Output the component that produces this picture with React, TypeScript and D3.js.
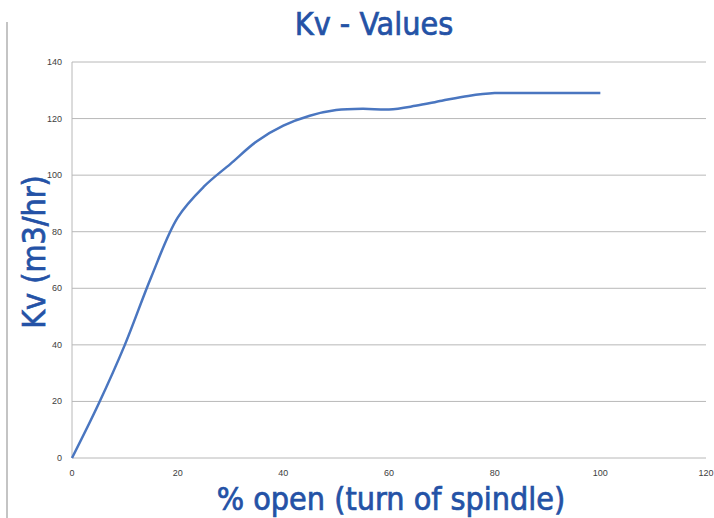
import React from "react";
import * as d3 from "d3";

const openPct = [0, 5, 10, 15, 20, 25, 30, 35, 40, 45, 50, 55, 60, 65, 70, 75, 80, 85, 90, 95, 100];
const kvValues = [0, 19, 40, 64, 85, 96, 104, 112, 117.5, 121, 123, 123.5, 123.2, 124.5, 126.3, 128, 129, 129, 129, 129, 129];
const xTicks = [0, 20, 40, 60, 80, 100, 120];
const yTicks = [0, 20, 40, 60, 80, 100, 120, 140];

const W = 714, H = 518;
const left = 72, right = 706, top = 62, bottom = 458;

export default function App() {
  const x = d3.scaleLinear().domain([0, 120]).range([left, right]);
  const y = d3.scaleLinear().domain([0, 140]).range([bottom, top]);
  const line = d3
    .line<number>()
    .x((_, i) => x(openPct[i]))
    .y((d) => y(d))
    .curve(d3.curveCatmullRom.alpha(0.5));
  const titleFont = "'DejaVu Sans Condensed', 'DejaVu Sans', sans-serif";
  const blue = "#2452a6";
  const heavy = { stroke: blue, strokeWidth: 0.7 };
  return (
    <svg width={W} height={H} style={{ position: "absolute", left: 0, top: 0 }}>
      <rect width={W} height={H} fill="#fff" />
      <line x1={7} x2={7} y1={22} y2={H} stroke="#c4c4c4" strokeWidth={2} />
      <text x={374} y={35} textAnchor="middle" fill={blue} fontFamily={titleFont} fontSize={32} {...heavy}>
        Kv - Values
      </text>
      {yTicks.map((t) => (
        <line key={"g" + t} x1={left} x2={right} y1={y(t)} y2={y(t)} stroke="#b8b8b8" strokeWidth={1} />
      ))}
      <line x1={left} x2={left} y1={top} y2={bottom} stroke="#b8b8b8" strokeWidth={1} />
      {yTicks.map((t) => (
        <text key={"y" + t} x={62} y={y(t) + 3} textAnchor="end" fontSize={9} fill="#404040" fontFamily="'Liberation Sans', Arial, sans-serif">
          {t}
        </text>
      ))}
      {xTicks.map((t) => (
        <text key={"x" + t} x={x(t)} y={476} textAnchor="middle" fontSize={9} fill="#404040" fontFamily="'Liberation Sans', Arial, sans-serif">
          {t}
        </text>
      ))}
      <path d={line(kvValues) || ""} fill="none" stroke="#4a76c0" strokeWidth={2.5} strokeLinejoin="round" />
      <text x={391} y={510} textAnchor="middle" fill={blue} fontFamily={titleFont} fontSize={32} {...heavy}>
        % open (turn of spindle)
      </text>
      <text
        transform={`translate(45, 252) rotate(-90)`}
        textAnchor="middle"
        fill={blue}
        fontFamily={titleFont}
        fontSize={32}
        {...heavy}
      >
        Kv (m3/hr)
      </text>
    </svg>
  );
}
